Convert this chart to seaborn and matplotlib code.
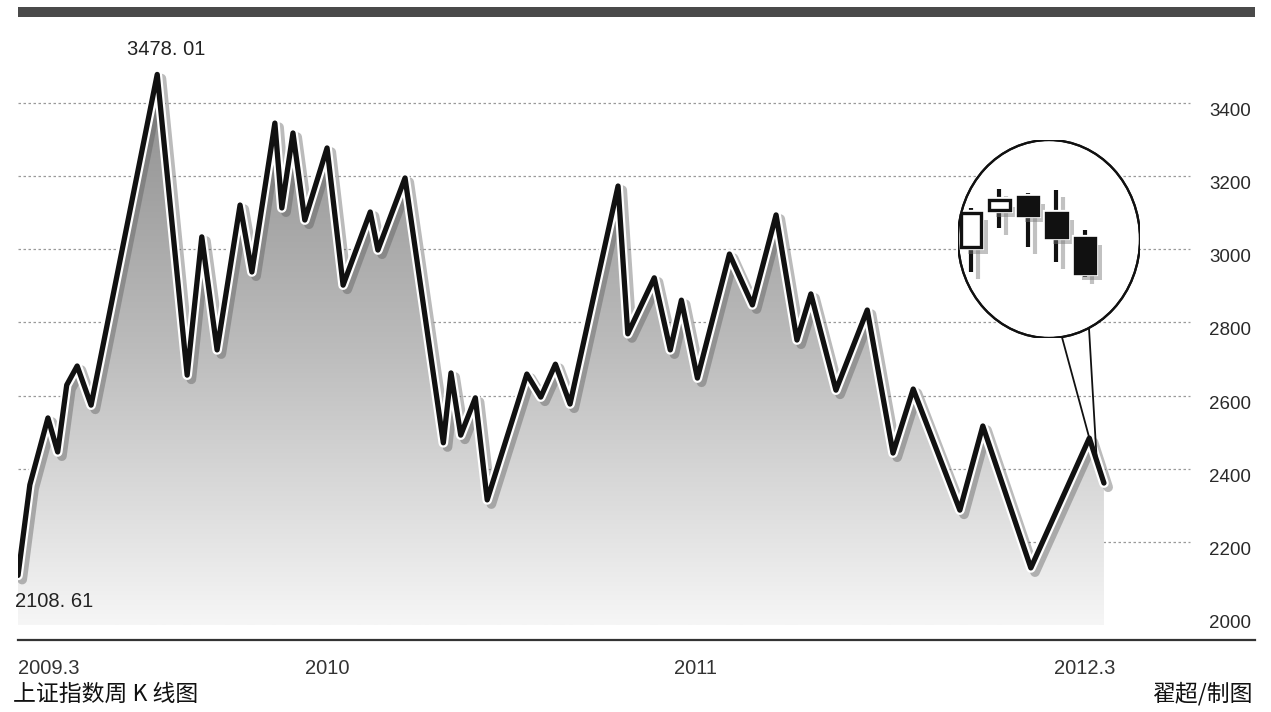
import numpy as np
import matplotlib
matplotlib.use("Agg")
import matplotlib.pyplot as plt
import seaborn as sns
from matplotlib import patheffects as pe
from matplotlib.patches import Rectangle, Ellipse, ConnectionPatch
from matplotlib.colors import LinearSegmentedColormap

# ---------------- data ----------------
weeks = [0, 1.7, 4.3, 5.7, 7, 8.5, 10.5, 20, 24.3, 26.4, 28.6, 31.9, 33.6,
         36.9, 37.9, 39.5, 41.2, 44.4, 46.7, 50.6, 51.7, 55.6, 61.1, 62.2,
         63.6, 65.7, 67.4, 73.1, 75.1, 77.2, 79.3, 86.2, 87.6, 91.4, 93.7,
         95.3, 97.6, 102.2, 105.5, 108.9, 111.9, 113.9, 117.5, 122, 125.7,
         128.6, 135.3, 138.6, 145.5, 153.9, 156]
index_vals = [2108.61, 2356, 2539, 2446, 2629, 2681, 2574, 3478.01, 2656,
              3034, 2725, 3121, 2938, 3345, 3113, 3318, 3080, 3277, 2902,
              3102, 2998, 3195, 2471, 2662, 2492, 2594, 2315, 2659, 2596,
              2686, 2577, 3173, 2769, 2922, 2725, 2861, 2648, 2987, 2848,
              3094, 2752, 2878, 2615, 2834, 2443, 2618, 2287, 2517, 2129,
              2484, 2361]

xtick_pos = [0, 44.4, 97.3, 153.3]
xtick_labels = ["2009.3", "2010", "2011", "2012.3"]
ytick_vals = [2000, 2200, 2400, 2600, 2800, 3000, 3200, 3400]
grid_vals = [2200, 2400, 2600, 2800, 3000, 3200, 3400]

peak_label = "3478. 01"
low_label = "2108. 61"
caption_left = "上证指数周 K 线图"
caption_right = "翟超/制图"

# candlestick inset (relative units)
c_open = [53, 90, 103, 87, 62]
c_close = [87, 100, 85, 63, 27]
c_high = [92, 111, 107, 110, 70]
c_low = [28, 72, 53, 38, 23]

# ---------------- style ----------------
sns.set_theme(style="white")
plt.rcParams["font.family"] = ["Liberation Sans", "Noto Sans CJK SC", "DejaVu Sans"]

W, H = 1271, 712
fig = plt.figure(figsize=(W / 100, H / 100), dpi=100)
fig.patch.set_facecolor("white")

def fx(px):
    return px / W

def fy(py):
    return 1 - py / H

ax = fig.add_axes([fx(18), fy(640), fx(1255) - fx(18), fy(17) - fy(640)])
ax.set_facecolor("white")

XMAX = 177.7
YMIN, YMAX = 1932, 3635
FILL_FLOOR = 1973

# gradient fill under the curve
poly = ax.fill_between(weeks, index_vals, FILL_FLOOR, facecolor="none", edgecolor="none")
cmap = LinearSegmentedColormap.from_list("g", ["#8e8e8e", "#bcbcbc", "#f6f6f6"])
grad = np.linspace(0, 1, 256).reshape(-1, 1)
im = ax.imshow(grad, cmap=cmap, aspect="auto", origin="upper",
               extent=[min(weeks), max(weeks), FILL_FLOOR, max(index_vals)], zorder=1)
im.set_clip_path(poly.get_paths()[0], transform=ax.transData)

# gridlines (stop before the labels)
ax.hlines(grid_vals, 0, 168.4, colors="#9a9a9a", linestyles=(0, (2, 2)), linewidth=0.9, zorder=0.5)

# main line
sns.lineplot(x=weeks, y=index_vals, ax=ax, color="#111111", linewidth=3.8,
             sort=False, estimator=None, zorder=3)
line = ax.lines[-1]
line.set_solid_joinstyle("round")
line.set_solid_capstyle("round")
line.set_path_effects([
    pe.SimpleLineShadow(offset=(3, -3), shadow_color="#555555", alpha=0.4, linewidth=7),
    pe.Stroke(linewidth=7.0, foreground="white"),
    pe.Normal(),
])

ax.set_xlim(0, XMAX)
ax.set_ylim(YMIN, YMAX)

# axes styling
for s in ["top", "left", "right"]:
    ax.spines[s].set_visible(False)
ax.spines["bottom"].set_color("#333333")
ax.spines["bottom"].set_linewidth(1.6)

ax.yaxis.tick_right()
ax.set_yticks(ytick_vals)
ax.set_yticklabels([str(v) for v in ytick_vals])
ax.tick_params(axis="y", length=0, pad=-33, labelsize=13.5, colors="#2a2a2a")
for lbl in ax.get_yticklabels():
    lbl.set_va("top")

ax.set_xticks(xtick_pos)
ax.set_xticklabels(xtick_labels)
ax.tick_params(axis="x", length=0, pad=14, labelsize=14.5, colors="#333333")
ax.get_xticklabels()[0].set_ha("left")
ax.grid(False)

# annotations
ax.annotate(peak_label, xy=(weeks[7], index_vals[7]), xytext=(9, 25),
            textcoords="offset pixels", ha="center", va="center",
            fontsize=14.5, color="#222222")
ax.annotate(low_label, xy=(weeks[0], index_vals[0]), xytext=(-3, -26),
            textcoords="offset pixels", ha="left", va="center",
            fontsize=14.5, color="#222222")

# top bar
fig.add_artist(Rectangle((fx(18), fy(17)), fx(1255) - fx(18), fy(7) - fy(17),
                         transform=fig.transFigure, facecolor="#4a4a4a", edgecolor="none"))

# inset circle with candlesticks
ins = fig.add_axes([fx(958), fy(338), fx(1140) - fx(958), fy(140) - fy(338)])
ins.set_xlim(-0.456, 5.93)
ins.set_ylim(-38, 160)
ins.axis("off")
circ = Ellipse((0.5, 0.5), 1, 1, transform=ins.transAxes, facecolor="white",
               edgecolor="#111111", linewidth=1.6, zorder=0)
ins.add_patch(circ)
xs = np.arange(len(c_open))
shadow_fx = [pe.SimplePatchShadow(offset=(5, -5), shadow_rgbFace="#777777", alpha=0.45),
             pe.Stroke(linewidth=4.5, foreground="white"), pe.Normal()]
wicks = ins.vlines(xs, c_low, c_high, colors="#111111", linewidth=3.0, zorder=2)
wicks.set_path_effects([pe.SimpleLineShadow(offset=(5, -5), shadow_color="#777777", alpha=0.45),
                        pe.Stroke(linewidth=5.5, foreground="white"), pe.Normal()])
wicks.set_clip_path(circ)
bodies = np.array(c_close) - np.array(c_open)
faces = ["white" if b > 0 else "#111111" for b in bodies]
bars = ins.bar(xs, bodies, bottom=c_open, width=0.72, color=faces,
               edgecolor="#111111", linewidth=2.4, zorder=3)
for b in bars:
    b.set_path_effects(shadow_fx)
    b.set_clip_path(circ)
# redraw circle edge on top
edge = Ellipse((0.5, 0.5), 1, 1, transform=ins.transAxes, facecolor="none",
               edgecolor="#111111", linewidth=1.6, zorder=5)
ins.add_patch(edge)

# connector lines
for xa, xb in [((0.571, 0.005), (153.9, 2484)), ((0.72, 0.045), (155.0, 2412))]:
    cp = ConnectionPatch(xyA=xa, coordsA=ins.transAxes, xyB=xb, coordsB=ax.transData,
                         color="#111111", linewidth=1.3, zorder=4)
    fig.add_artist(cp)

# bottom band (clips the year labels like the original) and captions
fig.add_artist(Rectangle((0, 0), 1, fy(675), transform=fig.transFigure,
                         facecolor="white", edgecolor="none", zorder=5))
fig.text(fx(13), fy(694), caption_left, ha="left", va="center", fontsize=16.5,
         color="#111111", family=["Noto Sans CJK SC", "DejaVu Sans"], zorder=6)
fig.text(fx(1253), fy(694), caption_right, ha="right", va="center", fontsize=16.5,
         color="#111111", family=["Noto Sans CJK SC", "DejaVu Sans"], zorder=6)

fig.savefig("out.png", dpi=100, facecolor="white")
